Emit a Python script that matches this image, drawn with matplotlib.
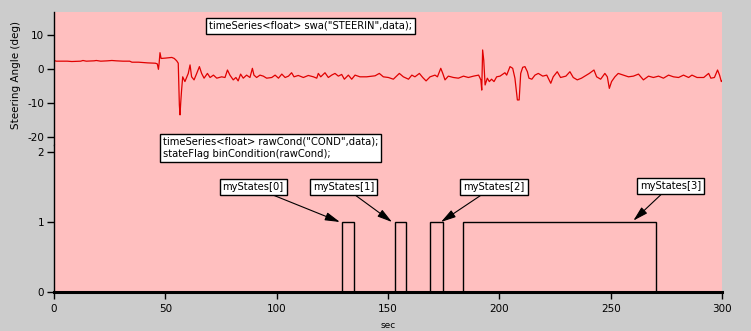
import matplotlib
matplotlib.use("Agg")
import matplotlib.pyplot as plt

# Steering wheel angle (deg) over time (sec)
steer_t = [0, 1.0, 6, 8, 12, 13, 14.5, 18, 19, 21, 24, 26, 28, 31, 34, 35, 38, 40, 42, 45.5,
           46.4, 46.9, 47.2, 47.6, 48.1, 50, 52.9, 54, 55.1, 55.8, 56.3, 56.6, 56.9, 57.3, 57.8,
           58.8, 60.3, 61.1, 61.8, 62.9, 64.1, 65.3, 66.3, 67.4, 68.9, 70.1, 71.6, 73.1, 75.3,
           76.8, 77.9, 79.0, 80.5, 81.7, 82.7, 83.8, 85.0, 86.5, 88.0, 89.1, 89.8, 91.0, 92.5,
           94.0, 95.5, 97.8, 99.3, 100.8, 102.3, 103.8, 105.3, 106.7, 107.8, 109.7, 112.0,
           114.2, 116.5, 118.0, 118.7, 119.8, 121.7, 123.2, 124.7, 126.2, 127.7, 129.2, 130.4,
           132.2, 133.7, 135.2, 137.4, 140.4, 142.7, 144.2, 146.1, 147.9, 150.2, 152.4, 155.1,
           156.9, 159.2, 160.7, 162.1, 164.1, 165.6, 167.1, 168.9, 171.1, 172.2, 173.7, 174.6,
           175.6, 177.1, 179.4, 181.6, 183.9, 186.1, 188.4, 190.7, 191.7, 192.1, 192.5, 193.0,
           193.6, 194.6, 195.5, 196.5, 197.6, 198.8, 200.3, 202.5, 203.3, 204.8, 206.0, 207.0,
           208.1, 208.9, 209.6, 210.5, 211.5, 212.6, 213.3, 214.6, 216.0, 217.5, 219.5, 221.3,
           223.1, 224.2, 226.0, 227.5, 229.9, 231.7, 233.2, 235.0, 236.9, 238.4, 240.4, 242.5,
           243.7, 245.5, 247.4, 248.5, 249.4, 250.4, 251.9, 253.4, 255.7, 258.0, 260.2, 262.5,
           264.7, 267.0, 269.2, 271.5, 273.7, 276.0, 278.2, 280.5, 282.7, 285.0, 286.5, 288.8,
           291.8, 294.0, 295.0, 296.6, 298.0, 298.9, 299.7, 300]
steer_v = [2.5, 2.3, 2.3, 2.2, 2.3, 2.5, 2.3, 2.4, 2.5, 2.3, 2.4, 2.5, 2.4, 2.3, 2.3, 2.0, 2.0,
           1.9, 1.8, 1.7, 1.5, -0.1, 1.6, 4.8, 3.1, 3.2, 3.4, 3.1, 2.4, 1.7, -10.6, -13.5, -10.0,
           -6.2, -2.3, -3.7, -1.3, 1.2, -2.3, -3.2, -1.3, 0.7, -1.3, -2.7, -1.3, -2.5, -1.8,
           -2.7, -2.3, -2.5, -0.3, -1.8, -3.2, -2.5, -3.5, -1.5, -2.7, -1.8, -2.5, 0.2, -1.8,
           -2.5, -1.8, -2.1, -2.7, -2.5, -1.8, -2.7, -1.5, -2.5, -2.1, -1.1, -2.3, -1.9, -2.5,
           -1.9, -2.3, -2.7, -1.3, -2.3, -1.1, -2.5, -1.8, -1.3, -2.1, -1.6, -3.0, -1.8, -3.0,
           -1.8, -2.3, -2.3, -2.1, -2.0, -1.3, -2.3, -2.5, -3.0, -1.3, -2.3, -3.0, -1.8, -2.3,
           -1.3, -2.5, -3.5, -2.3, -1.8, -2.3, 0.2, -1.3, -3.2, -2.1, -2.5, -2.7, -2.1, -2.5,
           -2.1, -1.8, -3.2, -6.2, 5.6, 2.6, -4.7, -2.7, -3.7, -3.0, -3.7, -2.3, -2.1, -1.1,
           -1.8, 0.7, 0.2, -2.7, -9.1, -9.1, -1.3, 0.5, 0.7, -0.8, -2.7, -3.0, -1.8, -1.3, -2.1,
           -1.8, -4.2, -2.3, -0.8, -2.5, -2.1, -0.8, -2.5, -3.2, -2.7, -2.1, -1.3, -0.3, -2.3,
           -3.0, -1.3, -2.3, -5.7, -3.7, -2.3, -1.3, -1.8, -2.3, -2.1, -1.5, -3.2, -2.1, -2.5,
           -2.1, -2.7, -1.8, -2.3, -2.5, -1.8, -2.5, -1.8, -2.5, -2.5, -1.3, -2.7, -2.5, -0.3,
           -1.8, -3.7, -3.5]

# Binary condition state (step changes)
state_t = [0, 129.5, 134.9, 153.0, 158.2, 169.0, 174.7, 183.8, 270.5, 300]
state_v = [0, 1, 0, 1, 0, 1, 0, 1, 0, 0]

state_labels = ["myStates[0]", "myStates[1]", "myStates[2]", "myStates[3]"]

x_ticks = [0, 50, 100, 150, 200, 250, 300]
steer_ticks = [10, 0, -10, -20]
state_ticks = [0, 1, 2]

plt.rcParams['font.family'] = ['DejaVu Sans']
plt.rcParams['axes.unicode_minus'] = False
BG = "#cccccc"
PINK = "#ffbfbf"

W, H = 751, 331
fig = plt.figure(figsize=(W / 100, H / 100), dpi=100, facecolor=BG)

def px_axes(x0, y0, x1, y1):
    return fig.add_axes([x0 / W, 1 - y1 / H, (x1 - x0) / W, (y1 - y0) / H])

ax_top = px_axes(54, 12, 722, 145)
ax_bot = px_axes(54, 145, 722, 292)

for ax in (ax_top, ax_bot):
    ax.set_facecolor(PINK)
    ax.set_xlim(0, 300)
    ax.spines['top'].set_visible(False)
    ax.spines['right'].set_visible(False)
    ax.spines['left'].set_linewidth(1.0)
    ax.tick_params(axis='y', direction='out', length=5, width=1, labelsize=7.5, pad=2)

# Top panel: steering angle
ax_top.plot(steer_t, steer_v, color="#e00000", lw=0.9)
ax_top.set_ylim(-22.35, 16.76)
ax_top.set_yticks(steer_ticks)
ax_top.spines['bottom'].set_visible(False)
ax_top.tick_params(axis='x', bottom=False, labelbottom=False)
ax_top.set_ylabel("Steering Angle (deg)", fontsize=7.5)
ax_top.yaxis.set_label_coords(-33 / 668, 0.53)

# Bottom panel: state flag
ax_bot.plot(state_t, state_v, color="black", lw=1.0, drawstyle='steps-post',
            solid_joinstyle='miter', clip_on=False)
ax_bot.set_ylim(0, 2.1)
ax_bot.set_yticks(state_ticks)
ax_bot.set_xticks(x_ticks)
ax_bot.spines['bottom'].set_linewidth(2.2)
ax_bot.tick_params(axis='x', direction='out', length=5, width=1, labelsize=7.5, pad=4)
ax_bot.set_xlabel("sec", fontsize=6.5, labelpad=5)

box = dict(boxstyle="square,pad=0.3", fc="white", ec="black", lw=1.0)

fig.text(310.5 / W, 1 - 26 / H, 'timeSeries<float> swa("STEERIN",data);',
         ha='center', va='center', fontsize=7.2, bbox=box)
fig.text(270.5 / W, 1 - 148 / H,
         'timeSeries<float> rawCond("COND",data);\nstateFlag binCondition(rawCond);',
         ha='center', va='center', multialignment='left', fontsize=7.2,
         bbox=dict(boxstyle="square,pad=0.3", fc="white", ec="black", lw=1.0),
         linespacing=1.35)

label_pos = [(89.4, 1.5), (130.0, 1.507), (197.6, 1.507), (276.9, 1.52)]
arrow_tip = [(128.4, 1.0), (151.8, 1.0), (173.8, 1.0), (260.2, 1.02)]
for lab, xyt, tip in zip(state_labels, label_pos, arrow_tip):
    ax_bot.annotate(lab, xy=tip, xytext=xyt, textcoords='data', ha='center', va='center',
                    fontsize=7.2, bbox=box,
                    arrowprops=dict(arrowstyle='-|>,head_length=0.9,head_width=0.25',
                                    color='black', lw=0.8, shrinkA=0, shrinkB=0,
                                    mutation_scale=10))

fig.savefig("out.png", dpi=100, facecolor=BG)
